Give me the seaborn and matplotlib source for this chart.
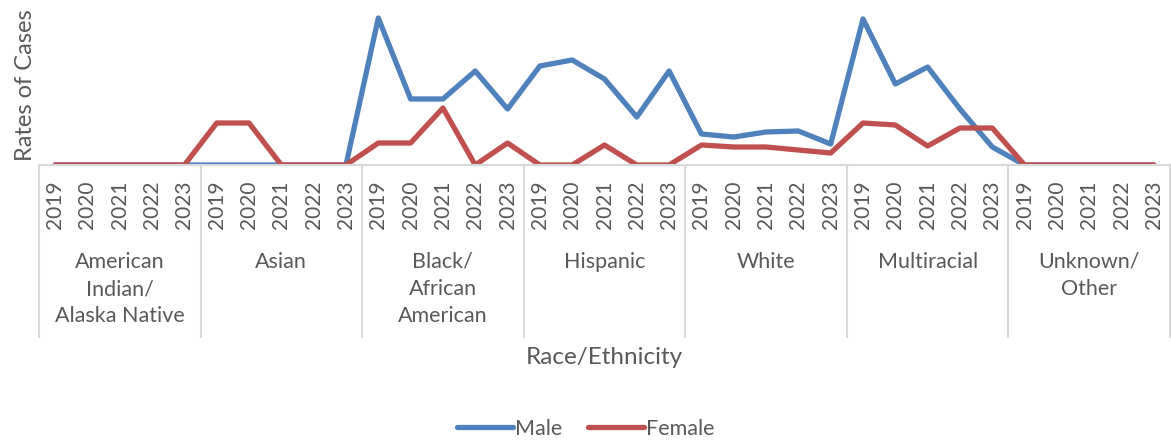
import matplotlib
matplotlib.use("Agg")
import matplotlib.pyplot as plt
import matplotlib.transforms as mtransforms
import pandas as pd
import seaborn as sns

groups = ["American\nIndian/\nAlaska Native", "Asian", "Black/\nAfrican\nAmerican",
          "Hispanic", "White", "Multiracial", "Unknown/\nOther"]
years = ["2019", "2020", "2021", "2022", "2023"]

male = [0, 0, 0, 0, 0,
        0, 0, 0, 0, 0,
        14.7, 6.6, 6.6, 9.4, 5.6,
        9.9, 10.5, 8.6, 4.8, 9.4,
        3.1, 2.8, 3.3, 3.4, 2.1,
        14.6, 8.1, 9.8, 5.6, 1.8,
        0, 0, 0, 0, 0]
female = [0, 0, 0, 0, 0,
          4.2, 4.2, 0, 0, 0,
          2.2, 2.2, 5.7, 0, 2.2,
          0, 0, 2.0, 0, 0,
          2.0, 1.8, 1.8, 1.5, 1.2,
          4.2, 4.0, 1.9, 3.7, 3.7,
          0, 0, 0, 0, 0]

n = len(groups) * len(years)
df = pd.DataFrame({
    "idx": list(range(n)) * 2,
    "rate": male + female,
    "sex": ["Male"] * n + ["Female"] * n,
})

W, H = 1171, 442
txt = "#595959"
grid = "#d9d9d9"
plt.rcParams["font.family"] = ["Lato", "DejaVu Sans"]

fig = plt.figure(figsize=(W / 100, H / 100), dpi=100)
ax = fig.add_axes([39 / W, 1 - 165 / H, (1170 - 39) / W, 160 / H])

sns.lineplot(data=df, x="idx", y="rate", hue="sex",
             palette={"Male": "#4F81BD", "Female": "#C0504D"},
             linewidth=3.8, solid_capstyle="round", solid_joinstyle="round",
             ax=ax)

ax.set_xlim(-0.5, n - 0.5)
ax.set_ylim(0, 16)
ax.set_yticks([])
ax.set_xticks(range(n))
ax.set_xticklabels(years * len(groups), rotation=90, fontsize=15, color=txt)
ax.tick_params(axis="x", length=0, pad=11)
for s in ["top", "right", "left"]:
    ax.spines[s].set_visible(False)
ax.spines["bottom"].set_color(grid)
ax.spines["bottom"].set_linewidth(1.5)
ax.set_xlabel("")
ax.set_ylabel("Rates of Cases", fontsize=17, color=txt, labelpad=2)

# group separators and group labels
trans = mtransforms.blended_transform_factory(ax.transData, fig.transFigure)
for g in range(len(groups) + 1):
    xb = g * len(years) - 0.5
    ax.plot([xb, xb], [1 - 165 / H, 1 - 337 / H], color=grid, lw=1.5,
            transform=trans, clip_on=False)
for g, name in enumerate(groups):
    xc = g * len(years) + 2
    ax.text(xc, 1 - 252 / H, name, transform=trans, ha="center", va="top",
            fontsize=15.5, color=txt, linespacing=1.45, multialignment="center")

fig.text((39 + 1170) / 2 / W, 1 - 358 / H, "Race/Ethnicity", ha="center",
         va="center", fontsize=17.5, color=txt)

handles, labels = ax.get_legend_handles_labels()
ax.get_legend().remove()
fig.legend(handles, labels, loc="center", bbox_to_anchor=(0.5, 1 - 429 / H),
           ncol=2, frameon=False, fontsize=15.5, handlelength=2.6,
           handletextpad=0.1, columnspacing=1.2, labelcolor=txt)

fig.savefig("out.png", dpi=100)
